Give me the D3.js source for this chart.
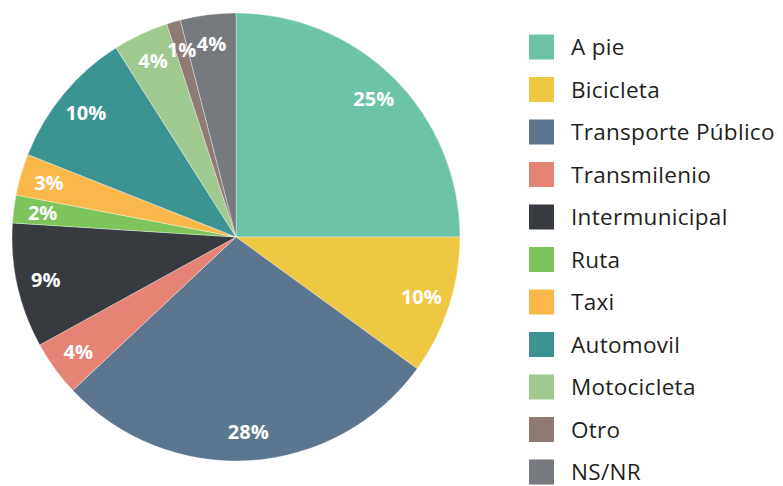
<!DOCTYPE html>
<html><head><meta charset="utf-8">
<script src="https://cdn.jsdelivr.net/npm/d3@7"></script>
<style>body{margin:0;background:#fff}svg{display:block}</style>
</head><body>
<svg id="c" width="783" height="486"></svg>
<script>
const categories = ["A pie","Bicicleta","Transporte Público","Transmilenio","Intermunicipal","Ruta","Taxi","Automovil","Motocicleta","Otro","NS/NR"];
const values = [25,10,28,4,9,2,3,10,4,1,4];
const colors = ["#6cc3a8","#efc843","#5d768f","#e58374","#373b3f","#7dc45a","#fbb84a","#3b9492","#9fc98f","#8f7b73","#767a7e"];

const svg = d3.select("#c");
const cx = 236, cy = 237, R = 224;
const data = categories.map((c,i)=>({name:c, value:values[i], color:colors[i]}));
const pie = d3.pie().value(d=>d.value).sort(null);
const arcs = pie(data);
const arc = d3.arc().innerRadius(0).outerRadius(R);
const labelArc = d3.arc().innerRadius(R*0.87).outerRadius(R*0.87);

const g = svg.append("g").attr("transform",`translate(${cx},${cy})`);
g.selectAll("path").data(arcs).join("path")
  .attr("d",arc).attr("fill",d=>d.data.color)
  .attr("stroke","#fff").attr("stroke-width",0.6).attr("stroke-opacity",0.6);
g.selectAll("text").data(arcs).join("text")
  .attr("transform",d=>`translate(${labelArc.centroid(d)})`)
  .attr("text-anchor","middle").attr("dy","0.36em")
  .attr("fill","#fff").attr("font-family","'Open Sans', sans-serif")
  .attr("font-weight","bold").attr("font-size",20)
  .text(d=>d.data.value+"%");

const legendY = d3.scalePoint().domain(categories).range([47,472]);
const lg = svg.append("g");
const items = lg.selectAll("g").data(data).join("g")
  .attr("transform",d=>`translate(529,${legendY(d.name)})`);
items.append("rect").attr("x",0).attr("y",-12.5).attr("width",25).attr("height",25).attr("fill",d=>d.color);
items.append("text").attr("x",42).attr("dy","0.36em")
  .attr("font-family","'Open Sans', sans-serif").attr("font-size",22.5)
  .attr("letter-spacing",0.3)
  .attr("fill","#231f20").text(d=>d.name);
</script>
</body></html>
